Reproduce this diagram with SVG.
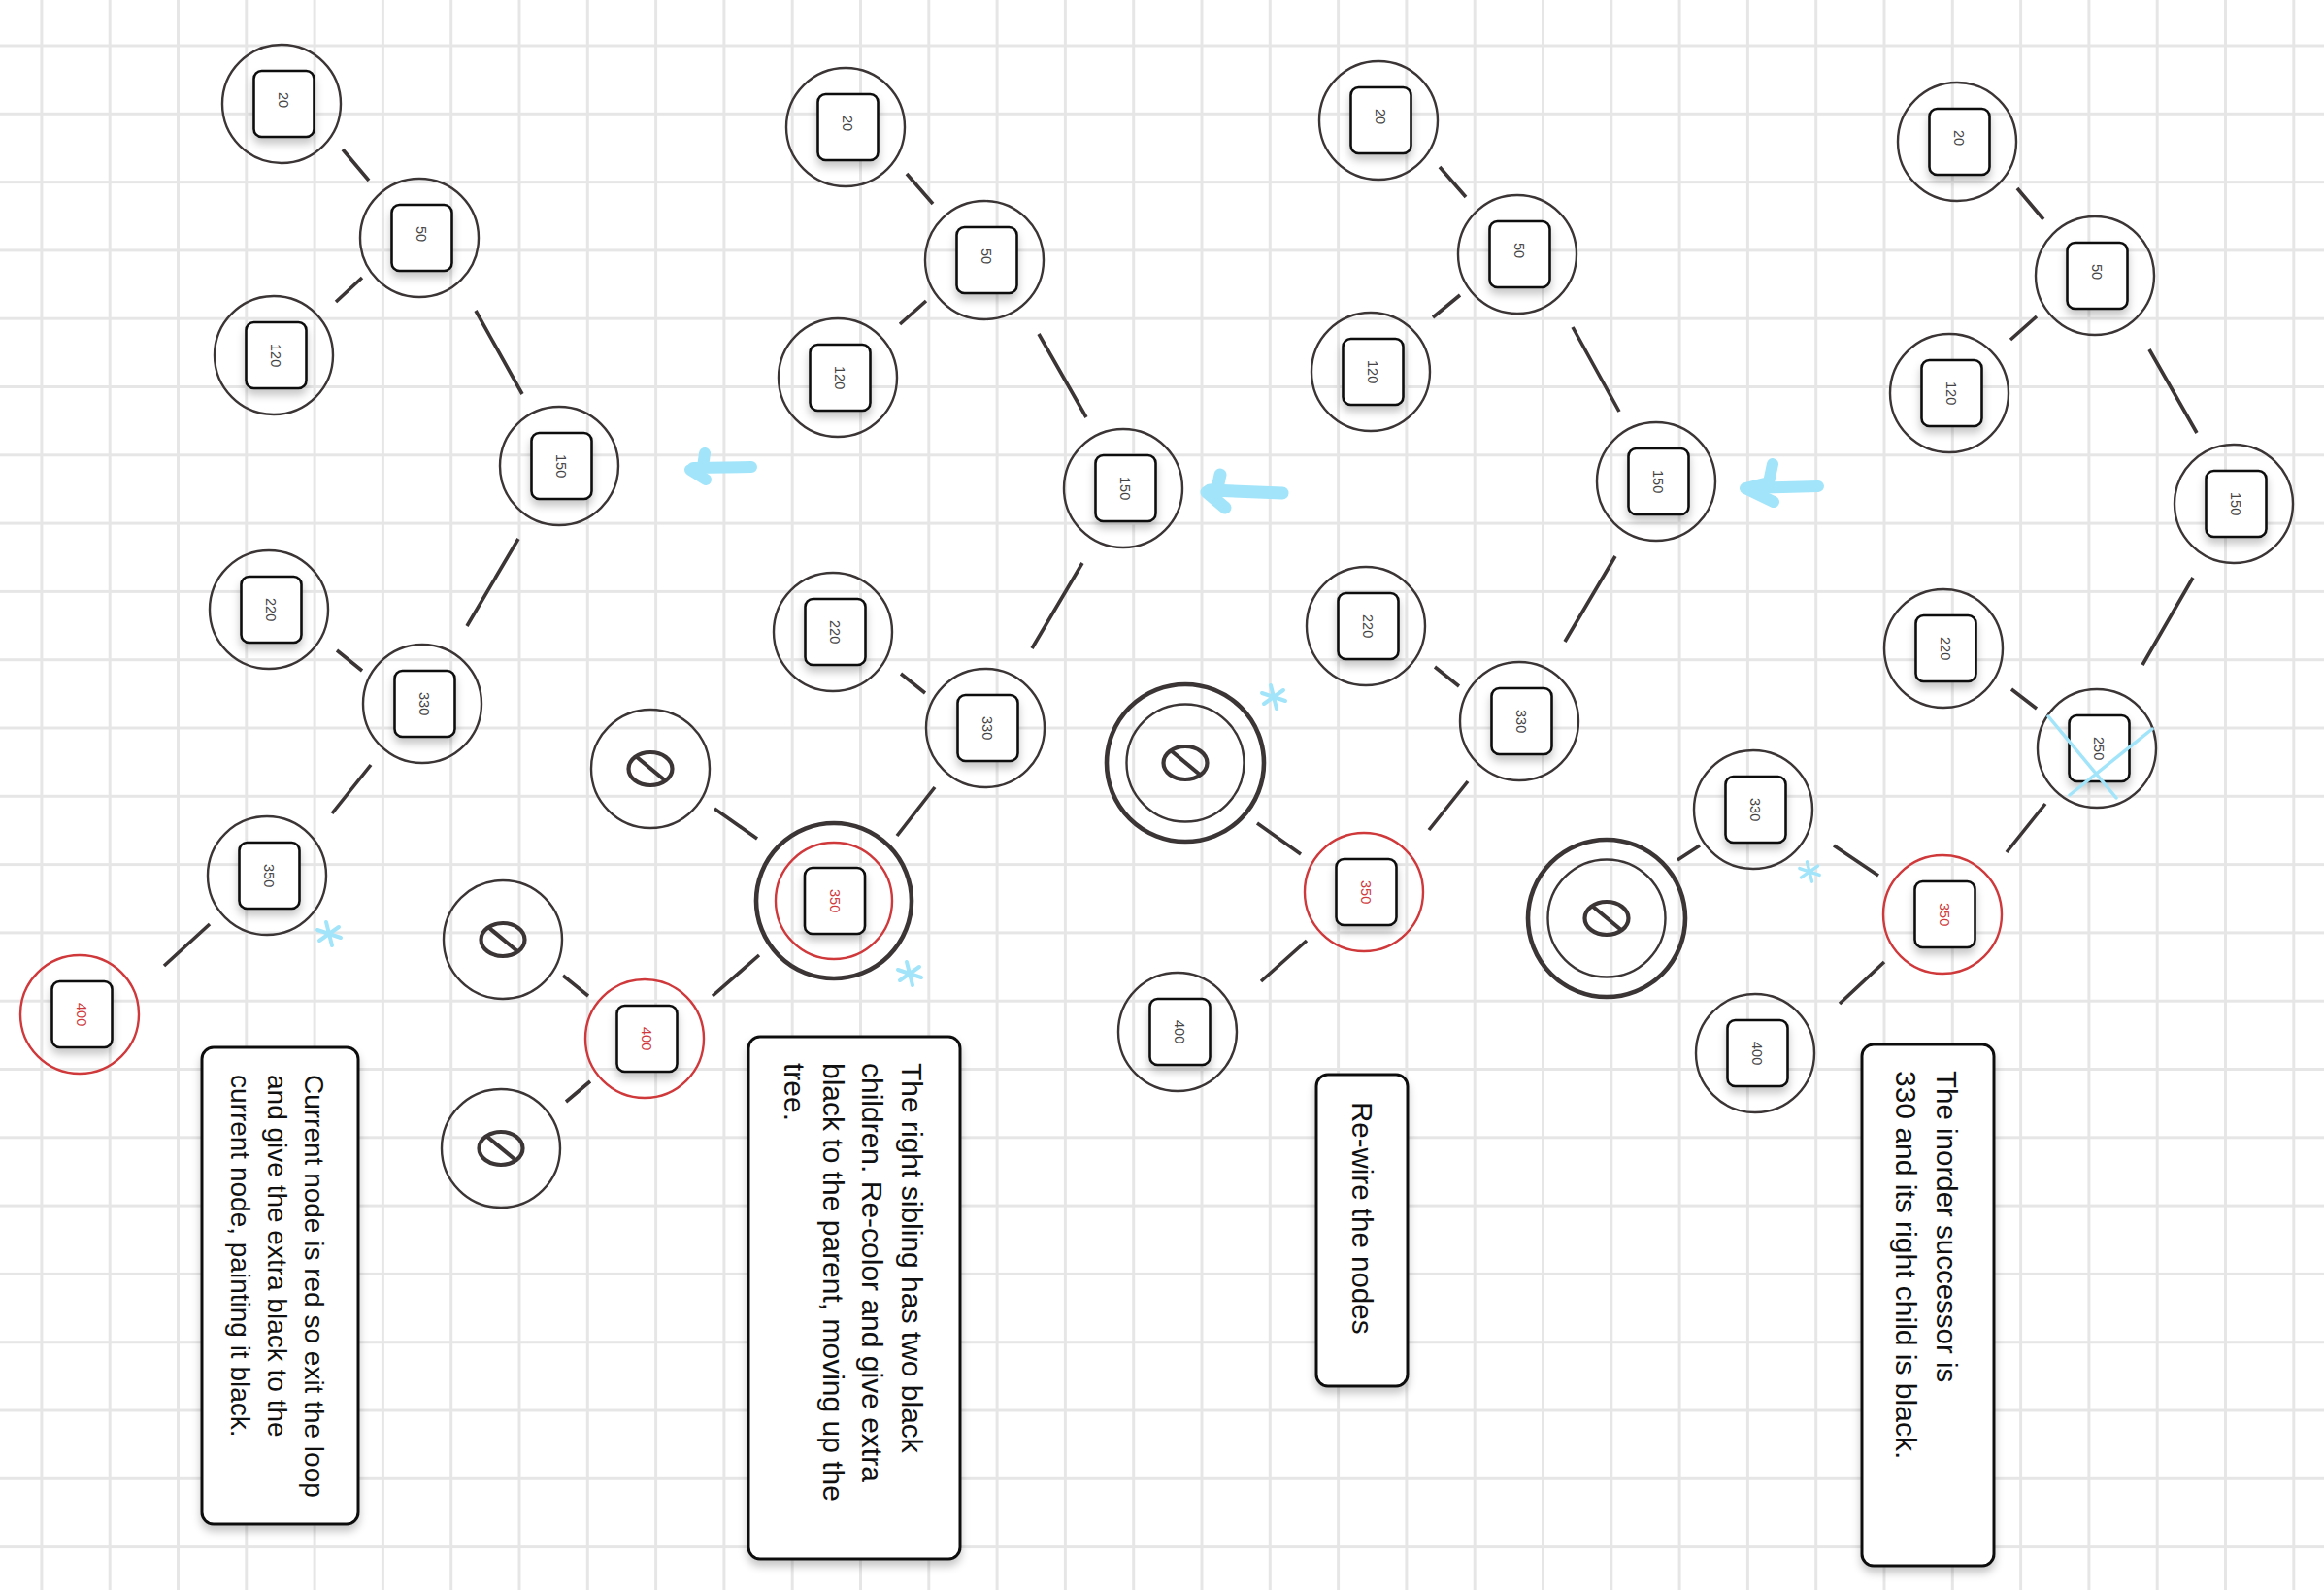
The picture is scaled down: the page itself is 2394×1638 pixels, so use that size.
<svg xmlns="http://www.w3.org/2000/svg" xmlns:xlink="http://www.w3.org/1999/xlink" width="2394" height="1638" viewBox="0 0 2394 1638">
<style>
.c{fill:none;stroke:#3b3536;stroke-width:2.4}
.cr{fill:none;stroke:#d0393b;stroke-width:2.4}
.cb{fill:none;stroke:#3b3536;stroke-width:4.6}
.r{fill:#fff;stroke:#111;stroke-width:2.6;filter:url(#sh)}
.lbl{font-family:"Liberation Sans",Arial,sans-serif;font-size:14.5px;fill:#444}
.red{fill:#d0393b}
.nul{fill:none;stroke:#3b3536;stroke-width:4.2}
.e{stroke:#3b3536;stroke-width:3.6;stroke-linecap:butt}
.box{fill:#fff;stroke:#111;stroke-width:3;filter:url(#sh)}
.t{font-family:"Liberation Sans",Arial,sans-serif;fill:#111}
.blue{fill:none;stroke:#a2e5fa;stroke-linecap:round;stroke-linejoin:round}
</style>
<defs>
<pattern id="grid" patternUnits="userSpaceOnUse" x="7.75" y="11.85" width="70.3" height="70.3">
<path d="M35.15 0V70.3M0 35.15H70.3" stroke="#e6e6e6" stroke-width="3" fill="none"/>
</pattern>
<filter id="sh" x="-30%" y="-30%" width="160%" height="170%">
<feDropShadow dx="0" dy="6" stdDeviation="4" flood-color="#000" flood-opacity="0.22"/>
</filter>
<g id="star" class="blue" stroke-width="4">
<path d="M-3 -12L3 12M-12 -4L12 4M-10 7L10 -7"/>
</g>
<g id="nullsym">
<ellipse class="nul" rx="22.5" ry="17"/>
<path class="nul" d="M-14 -12L15 12"/>
</g>
</defs>
<rect width="2394" height="1638" fill="#fff"/>
<rect width="2394" height="1638" fill="url(#grid)"/>

<g id="connectors">
<path class="e" d="M353 154L380 186M373 286L346 311M490 320L538 406M534 555L481 645M347 670L373 691M382 788L342 838M216 952L169 995"/>
<path class="e" d="M934 179L961 210M954 310L927 334M1070 344L1119 430M1115 580L1063 668M928 694L953 714M963 811L924 861M736 833L780 864M782 984L734 1026M580 1005L606 1026M608 1114L583 1135"/>
<path class="e" d="M1483 172L1510 203M1504 304L1476 327M1620 337L1668 424M1664 573L1612 661M1478 687L1503 707M1512 805L1472 855M1295 848L1340 880M1346 969L1299 1011"/>
<path class="e" d="M2078 194L2105 226M2098 326L2071 350M2214 360L2263 446M2259 595L2207 685M2072 710L2098 730M2107 828L2067 878M1889 871L1935 902M1728 886L1751 871M1941 991L1895 1034"/>
</g>

<!-- Tree 1 -->
<g id="t1-20" transform="translate(290,107)"><circle class="c" r="61"/><rect class="r" x="-28.5" y="-34" width="62" height="68" rx="8"/><text class="lbl" transform="translate(-2.7,-12) rotate(90)">20</text></g>
<g id="t1-50" transform="translate(432,245)"><circle class="c" r="61"/><rect class="r" x="-28.5" y="-34" width="62" height="68" rx="8"/><text class="lbl" transform="translate(-2.7,-12) rotate(90)">50</text></g>
<g id="t1-120" transform="translate(282,366)"><circle class="c" r="61"/><rect class="r" x="-28.5" y="-34" width="62" height="68" rx="8"/><text class="lbl" transform="translate(-2.7,-12) rotate(90)">120</text></g>
<g id="t1-150" transform="translate(576,480)"><circle class="c" r="61"/><rect class="r" x="-28.5" y="-34" width="62" height="68" rx="8"/><text class="lbl" transform="translate(-2.7,-12) rotate(90)">150</text></g>
<g id="t1-220" transform="translate(277,628)"><circle class="c" r="61"/><rect class="r" x="-28.5" y="-34" width="62" height="68" rx="8"/><text class="lbl" transform="translate(-2.7,-12) rotate(90)">220</text></g>
<g id="t1-330" transform="translate(435,725)"><circle class="c" r="61"/><rect class="r" x="-28.5" y="-34" width="62" height="68" rx="8"/><text class="lbl" transform="translate(-2.7,-12) rotate(90)">330</text></g>
<g id="t1-350" transform="translate(275,902)"><circle class="c" r="61"/><rect class="r" x="-28.5" y="-34" width="62" height="68" rx="8"/><text class="lbl" transform="translate(-2.7,-12) rotate(90)">350</text></g>
<g id="t1-400" transform="translate(82,1045)"><circle class="cr" r="61"/><rect class="r" x="-28.5" y="-34" width="62" height="68" rx="8"/><text class="lbl red" transform="translate(-2.7,-12) rotate(90)">400</text></g>

<!-- Tree 2 -->
<g id="t2-20" transform="translate(871,131)"><circle class="c" r="61"/><rect class="r" x="-28.5" y="-34" width="62" height="68" rx="8"/><text class="lbl" transform="translate(-2.7,-12) rotate(90)">20</text></g>
<g id="t2-50" transform="translate(1014,268)"><circle class="c" r="61"/><rect class="r" x="-28.5" y="-34" width="62" height="68" rx="8"/><text class="lbl" transform="translate(-2.7,-12) rotate(90)">50</text></g>
<g id="t2-120" transform="translate(863,389)"><circle class="c" r="61"/><rect class="r" x="-28.5" y="-34" width="62" height="68" rx="8"/><text class="lbl" transform="translate(-2.7,-12) rotate(90)">120</text></g>
<g id="t2-150" transform="translate(1157,503)"><circle class="c" r="61"/><rect class="r" x="-28.5" y="-34" width="62" height="68" rx="8"/><text class="lbl" transform="translate(-2.7,-12) rotate(90)">150</text></g>
<g id="t2-220" transform="translate(858,651)"><circle class="c" r="61"/><rect class="r" x="-28.5" y="-34" width="62" height="68" rx="8"/><text class="lbl" transform="translate(-2.7,-12) rotate(90)">220</text></g>
<g id="t2-330" transform="translate(1015,750)"><circle class="c" r="61"/><rect class="r" x="-28.5" y="-34" width="62" height="68" rx="8"/><text class="lbl" transform="translate(-2.7,-12) rotate(90)">330</text></g>
<g id="t2-nullA" transform="translate(670,792)"><circle class="c" r="61"/><use xlink:href="#nullsym" href="#nullsym"/></g>
<g id="t2-350" transform="translate(859,928)"><circle class="cb" r="80"/><circle class="cr" r="60"/><rect class="r" x="-30" y="-34" width="62" height="68" rx="8"/><text class="lbl red" transform="translate(-4.2,-12) rotate(90)">350</text></g>
<g id="t2-400" transform="translate(664,1070)"><circle class="cr" r="61"/><rect class="r" x="-28.5" y="-34" width="62" height="68" rx="8"/><text class="lbl red" transform="translate(-2.7,-12) rotate(90)">400</text></g>
<g id="t2-nullB" transform="translate(518,968)"><circle class="c" r="61"/><use xlink:href="#nullsym" href="#nullsym"/></g>
<g id="t2-nullC" transform="translate(516,1183)"><circle class="c" r="61"/><use xlink:href="#nullsym" href="#nullsym"/></g>

<!-- Tree 3 -->
<g id="t3-20" transform="translate(1420,124)"><circle class="c" r="61"/><rect class="r" x="-28.5" y="-34" width="62" height="68" rx="8"/><text class="lbl" transform="translate(-2.7,-12) rotate(90)">20</text></g>
<g id="t3-50" transform="translate(1563,262)"><circle class="c" r="61"/><rect class="r" x="-28.5" y="-34" width="62" height="68" rx="8"/><text class="lbl" transform="translate(-2.7,-12) rotate(90)">50</text></g>
<g id="t3-120" transform="translate(1412,383)"><circle class="c" r="61"/><rect class="r" x="-28.5" y="-34" width="62" height="68" rx="8"/><text class="lbl" transform="translate(-2.7,-12) rotate(90)">120</text></g>
<g id="t3-150" transform="translate(1706,496)"><circle class="c" r="61"/><rect class="r" x="-28.5" y="-34" width="62" height="68" rx="8"/><text class="lbl" transform="translate(-2.7,-12) rotate(90)">150</text></g>
<g id="t3-220" transform="translate(1407,645)"><circle class="c" r="61"/><rect class="r" x="-28.5" y="-34" width="62" height="68" rx="8"/><text class="lbl" transform="translate(-2.7,-12) rotate(90)">220</text></g>
<g id="t3-330" transform="translate(1565,743)"><circle class="c" r="61"/><rect class="r" x="-28.5" y="-34" width="62" height="68" rx="8"/><text class="lbl" transform="translate(-2.7,-12) rotate(90)">330</text></g>
<g id="t3-null" transform="translate(1221,786)"><circle class="cb" r="81"/><circle class="c" r="60.5"/><use xlink:href="#nullsym" href="#nullsym"/></g>
<g id="t3-350" transform="translate(1405,919)"><circle class="cr" r="61"/><rect class="r" x="-28.5" y="-34" width="62" height="68" rx="8"/><text class="lbl red" transform="translate(-2.7,-12) rotate(90)">350</text></g>
<g id="t3-400" transform="translate(1213,1063)"><circle class="c" r="61"/><rect class="r" x="-28.5" y="-34" width="62" height="68" rx="8"/><text class="lbl" transform="translate(-2.7,-12) rotate(90)">400</text></g>

<!-- Tree 4 -->
<g id="t4-20" transform="translate(2016,146)"><circle class="c" r="61"/><rect class="r" x="-28.5" y="-34" width="62" height="68" rx="8"/><text class="lbl" transform="translate(-2.7,-12) rotate(90)">20</text></g>
<g id="t4-50" transform="translate(2158,284)"><circle class="c" r="61"/><rect class="r" x="-28.5" y="-34" width="62" height="68" rx="8"/><text class="lbl" transform="translate(-2.7,-12) rotate(90)">50</text></g>
<g id="t4-120" transform="translate(2008,405)"><circle class="c" r="61"/><rect class="r" x="-28.5" y="-34" width="62" height="68" rx="8"/><text class="lbl" transform="translate(-2.7,-12) rotate(90)">120</text></g>
<g id="t4-150" transform="translate(2301,519)"><circle class="c" r="61"/><rect class="r" x="-28.5" y="-34" width="62" height="68" rx="8"/><text class="lbl" transform="translate(-2.7,-12) rotate(90)">150</text></g>
<g id="t4-220" transform="translate(2002,668)"><circle class="c" r="61"/><rect class="r" x="-28.5" y="-34" width="62" height="68" rx="8"/><text class="lbl" transform="translate(-2.7,-12) rotate(90)">220</text></g>
<g id="t4-250" transform="translate(2160,771)"><circle class="c" r="61"/><rect class="r" x="-28.5" y="-34" width="62" height="68" rx="8"/><text class="lbl" transform="translate(-2.7,-12) rotate(90)">250</text></g>
<g id="t4-350" transform="translate(2001,942)"><circle class="cr" r="61"/><rect class="r" x="-28.5" y="-34" width="62" height="68" rx="8"/><text class="lbl red" transform="translate(-2.7,-12) rotate(90)">350</text></g>
<g id="t4-330" transform="translate(1806,834)"><circle class="c" r="61"/><rect class="r" x="-28.5" y="-34" width="62" height="68" rx="8"/><text class="lbl" transform="translate(-2.7,-12) rotate(90)">330</text></g>
<g id="t4-null" transform="translate(1655,946)"><circle class="cb" r="81"/><circle class="c" r="60.5"/><use xlink:href="#nullsym" href="#nullsym"/></g>
<g id="t4-400" transform="translate(1808,1085)"><circle class="c" r="61"/><rect class="r" x="-28.5" y="-34" width="62" height="68" rx="8"/><text class="lbl" transform="translate(-2.7,-12) rotate(90)">400</text></g>

<!-- annotations -->
<g id="marks">
<path class="blue" stroke-width="3.5" d="M2110 738L2180 822M2217 751L2132 819"/>
<use xlink:href="#star" href="#star" transform="translate(339,962)"/>
<use xlink:href="#star" href="#star" transform="translate(937,1003)"/>
<use xlink:href="#star" href="#star" transform="translate(1312,718)"/>
<use xlink:href="#star" href="#star" transform="translate(1864,898) scale(0.85)"/>
<g id="arrow1" class="blue" stroke-width="12"><path d="M774 481L714 482"/><path d="M726 467L724 481L711 484L727 494"/></g>
<g id="arrow2" class="blue" stroke-width="13"><path d="M1321 508L1246 505"/><path d="M1257 489L1254 503L1243 507L1262 523"/></g>
<g id="arrow3" class="blue" stroke-width="12"><path d="M1873 501L1800 503"/><path d="M1826 478L1822 497L1798 503L1827 517"/></g>
</g>

<!-- text boxes -->
<g id="box1"><rect class="box" x="208" y="1079" width="161" height="491" rx="12"/>
<text class="t" font-size="28" transform="translate(314,1107) rotate(90)">Current node is red so exit the loop</text>
<text class="t" font-size="28" transform="translate(276,1107) rotate(90)">and give the extra black to the</text>
<text class="t" font-size="28" transform="translate(238,1107) rotate(90)">current node, painting it black.</text></g>
<g id="box2"><rect class="box" x="771" y="1068" width="218" height="538" rx="12"/>
<text class="t" font-size="30" transform="translate(929,1095) rotate(90)">The right sibling has two black</text>
<text class="t" font-size="30" transform="translate(888,1095) rotate(90)">children. Re-color and give extra</text>
<text class="t" font-size="30" transform="translate(848,1095) rotate(90)">black to the parent, moving up the</text>
<text class="t" font-size="30" transform="translate(808,1095) rotate(90)">tree.</text></g>
<g id="box3"><rect class="box" x="1356" y="1107" width="94" height="321" rx="12"/>
<text class="t" font-size="29.5" transform="translate(1393,1135) rotate(90)">Re-wire the nodes</text></g>
<g id="box4"><rect class="box" x="1918" y="1076" width="136" height="537" rx="12"/>
<text class="t" font-size="29.5" transform="translate(1995,1103) rotate(90)">The inorder successor is</text>
<text class="t" font-size="30" transform="translate(1953,1103) rotate(90)">330 and its right child is black.</text></g>
</svg>
